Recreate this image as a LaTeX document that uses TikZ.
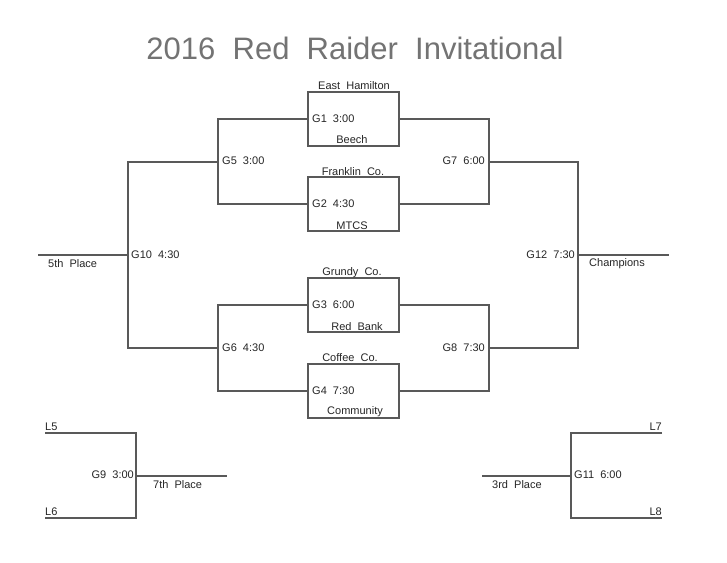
\documentclass[tikz,border=0pt]{standalone}
\usepackage{fontspec}
\setmainfont[WordSpace=2]{Liberation Sans}
\begin{document}
\begin{tikzpicture}[x=1pt,y=-1pt,
  ln/.style={draw=black!65,line width=1.3pt},
  box/.style={ln,minimum width=91pt,minimum height=54pt,inner sep=0pt},
  lbl/.style={inner sep=0pt,font=\fontsize{11}{13}\selectfont,text=black!85},
  ttl/.style={inner sep=0pt,font=\fontsize{31}{35}\selectfont,text=black!55}]
\useasboundingbox[fill=white] (0,0) rectangle (727,562);
\node[ttl] (title) at (355,48) {2016 Red Raider Invitational};
% first round boxes
\node[box] (b1) at (353.5,119) {};
\node[box] (b2) at (353.5,204) {};
\node[box] (b3) at (353.5,305) {};
\node[box] (b4) at (353.5,391) {};
% junction coordinates
\coordinate (g5t) at (218,119); \coordinate (g5b) at (218,204); \coordinate (g5m) at (218,162);
\coordinate (g6t) at (218,305); \coordinate (g6b) at (218,391); \coordinate (g6m) at (218,348);
\coordinate (g7t) at (489,119); \coordinate (g7b) at (489,204); \coordinate (g7m) at (489,162);
\coordinate (g8t) at (489,305); \coordinate (g8b) at (489,391); \coordinate (g8m) at (489,348);
\coordinate (g10t) at (128,162); \coordinate (g10b) at (128,348); \coordinate (g10m) at (128,255);
\coordinate (g12t) at (578,162); \coordinate (g12b) at (578,348); \coordinate (g12m) at (578,255);
\coordinate (fifth) at (38,255); \coordinate (champ) at (669,255);
\coordinate (l5) at (45,433); \coordinate (l6) at (45,518);
\coordinate (g9t) at (136,433); \coordinate (g9b) at (136,518); \coordinate (g9m) at (136,476);
\coordinate (seventh) at (227,476);
\coordinate (l7) at (662,433); \coordinate (l8) at (662,518);
\coordinate (g11t) at (571,433); \coordinate (g11b) at (571,518); \coordinate (g11m) at (571,476);
\coordinate (third) at (482,476);
% brackets
\draw[ln] (b1.west) -- (g5t) -- (g5b) -- (b2.west);
\draw[ln] (b3.west) -- (g6t) -- (g6b) -- (b4.west);
\draw[ln] (b1.east) -- (g7t) -- (g7b) -- (b2.east);
\draw[ln] (b3.east) -- (g8t) -- (g8b) -- (b4.east);
\draw[ln] (g5m) -- (g10t) -- (g10b) -- (g6m);
\draw[ln] (g7m) -- (g12t) -- (g12b) -- (g8m);
\draw[ln] (fifth) -- (g10m);
\draw[ln] (g12m) -- (champ);
\draw[ln] (l5) -- (g9t) -- (g9b) -- (l6);
\draw[ln] (g9m) -- (seventh);
\draw[ln] (l7) -- (g11t) -- (g11b) -- (l8);
\draw[ln] (g11m) -- (third);
% team names
\node[lbl] (t1) at (354,86) {East Hamilton};
\node[lbl] (t2) at (352,140) {Beech};
\node[lbl] (t3) at (353,172) {Franklin Co.};
\node[lbl] (t4) at (352,226) {MTCS};
\node[lbl] (t5) at (352,273) {Grundy Co.};
\node[lbl] (t6) at (357,327) {Red Bank};
\node[lbl] (t7) at (350,358) {Coffee Co.};
\node[lbl] (t8) at (355,412) {Community};
% game labels
\node[lbl,anchor=west] (G1) at (312,119) {G1 3:00};
\node[lbl,anchor=west] (G2) at (312,204) {G2 4:30};
\node[lbl,anchor=west] (G3) at (312,305) {G3 6:00};
\node[lbl,anchor=west] (G4) at (312,391) {G4 7:30};
\node[lbl,anchor=west] (G5) at (222,161) {G5 3:00};
\node[lbl,anchor=west] (G6) at (222,348) {G6 4:30};
\node[lbl,anchor=east] (G7) at (485,161) {G7 6:00};
\node[lbl,anchor=east] (G8) at (485,348) {G8 7:30};
\node[lbl,anchor=west] (G10) at (131,255) {G10 4:30};
\node[lbl,anchor=east] (G12) at (575,255) {G12 7:30};
\node[lbl,anchor=east] (G9) at (134,475) {G9 3:00};
\node[lbl,anchor=west] (G11) at (574,475) {G11 6:00};
% places
\node[lbl,anchor=west] (p5) at (48,264) {5th Place};
\node[lbl,anchor=west] (pc) at (589,264) {Champions};
\node[lbl,anchor=west] (p7) at (153,485) {7th Place};
\node[lbl,anchor=west] (p3) at (492,485) {3rd Place};
\node[lbl,anchor=west] (L5) at (45,427) {L5};
\node[lbl,anchor=west] (L6) at (45,512) {L6};
\node[lbl,anchor=east] (L7) at (662,427) {L7};
\node[lbl,anchor=east] (L8) at (662,512) {L8};
\end{tikzpicture}
\end{document}
